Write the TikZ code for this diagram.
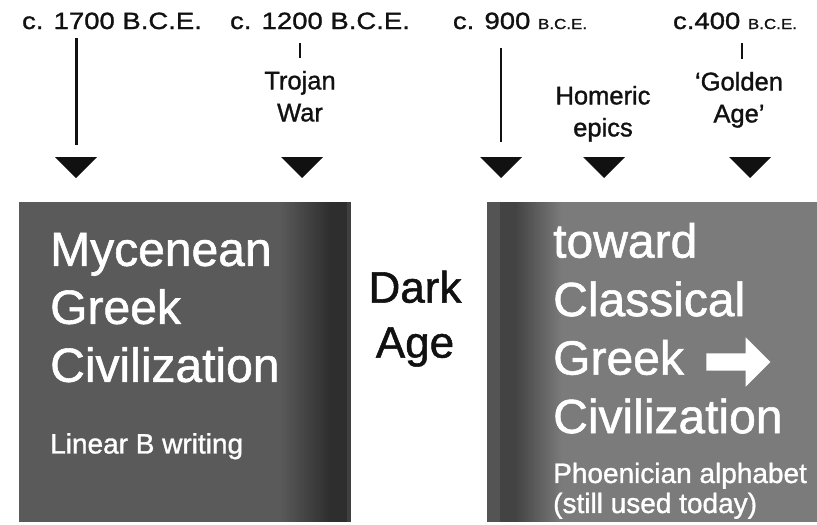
\documentclass[tikz,border=0pt]{standalone}
\usepackage{fontspec}
\setmainfont{Liberation Sans}[FakeBold=1.2]
\newfontfamily\widesans{Liberation Sans}[FakeStretch=1.17, FakeBold=1.2]
\usetikzlibrary{shapes.arrows}

\definecolor{mycgray}{HTML}{5A5A5A}
\definecolor{mycdark}{HTML}{2E2E2E}
\definecolor{clsgray}{HTML}{7B7B7B}
\definecolor{clsdark}{HTML}{434343}
\definecolor{inkblack}{HTML}{111111}

\begin{document}
\begin{tikzpicture}[x=1pt, y=-1pt,
  datelbl/.style={font=\widesans\fontsize{23.5}{28}\selectfont, text=inkblack, anchor=base, inner sep=0pt},
  eventlbl/.style={font=\fontsize{25.5}{32}\selectfont, text=inkblack, align=center, anchor=north, inner sep=0pt},
  boxtitle/.style={font=\fontsize{48}{58}\selectfont, text=white, align=left, anchor=north west, inner sep=0pt},
  boxnote/.style={font=\fontsize{28}{30}\selectfont, text=white, align=left, anchor=north west, inner sep=0pt},
  stem/.style={draw=inkblack, line width=3pt},
  tick/.style={draw=inkblack, line width=2.5pt, shorten <=14pt, shorten >=13pt},
  fwd/.style={single arrow, fill=white, minimum height=64pt, inner xsep=0pt, inner ysep=8.5pt,
    single arrow head extend=16pt}]

  \useasboundingbox (0,0) rectangle (817,525);

  % the two periods
  \fill[mycgray] (19,202) rectangle (351,522);
  \foreach \i in {0,...,49} {
    \pgfmathsetmacro\pct{2*\i}
    \fill[mycdark!\pct!mycgray] (280+\i,202) rectangle (281.2+\i,522);
  }
  \fill[mycdark] (330,202) rectangle (347,522);
  \fill[mycdark!92!white] (347,202) rectangle (351,522);

  \fill[clsgray] (487,202) rectangle (817,522);
  \fill[clsdark!70!clsgray] (487,202) rectangle (500,522);
  \fill[clsdark] (500,202) rectangle (516,522);
  \foreach \i in {0,...,46} {
    \pgfmathsetmacro\pct{100-2.13*\i}
    \fill[clsdark!\pct!clsgray] (515+\i,202) rectangle (516.2+\i,522);
  }

  % dates
  \node[datelbl] (d1700) at (112,29) {c. 1700 B.C.E.};
  \node[datelbl] (d1200) at (320,29) {c. 1200 B.C.E.};
  \node[datelbl] (d900)  at (520,29) {c. 900 {\fontsize{14.5}{16}\selectfont B.C.E.}};
  \node[datelbl] (d400)  at (735,29) {c.400 {\fontsize{14.5}{16}\selectfont B.C.E.}};

  % events
  \node[eventlbl] (troy) at (300,70.7) {Trojan\\War};
  \node[eventlbl] (hom)  at (603,85.7) {Homeric\\epics};
  \node[eventlbl] (gold) at (739,71.7) {`Golden\\Age'};

  % markers
  \foreach \n/\x in {m1/76, m2/302, m3/501, m4/604, m5/750} {
    \coordinate (\n) at (\x,157);
    \fill[inkblack] (\n) ++(-21,0) -- ++(42,0) -- ++(-21,21) -- cycle;
  }

  \draw[stem, shorten <=9pt, shorten >=12pt] (d1700.south -| m1) -- (m1);
  \draw[stem, line width=2.5pt, shorten <=19pt, shorten >=15pt] (d900.south -| m3) -- (m3);
  \draw[tick] (d1200.south -| troy.north) -- (troy.north);
  \draw[tick] ([xshift=3pt]d400.south -| gold.north) -- ([xshift=3pt]gold.north);

  % box texts
  \node[boxtitle] (myc) at (50,232.6) {Mycenean\\Greek\\Civilization};
  \node[boxnote] (linb) at (50,433) {Linear B writing};

  \node[font=\fontsize{44}{55}\selectfont, text=inkblack, align=center, anchor=north, inner sep=0pt]
    (dark) at (415,270.5) {Dark\\Age};

  \node[boxtitle, font=\fontsize{48}{58.5}\selectfont] (cls) at (553,222.6)
    {toward\\Classical\\Greek\\Civilization};
  \node[fwd] (arr) at (734,362) {};
  \node[boxnote] (phoen) at (553,462.5) {Phoenician alphabet\\(still used today)};

\end{tikzpicture}
\end{document}
